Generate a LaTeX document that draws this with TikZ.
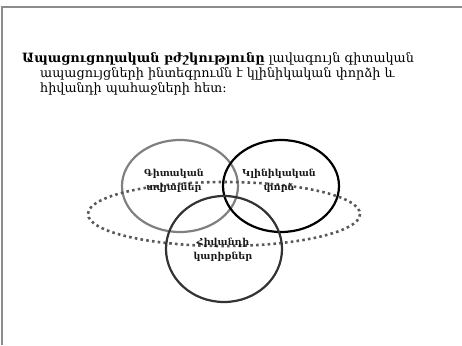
\documentclass[tikz,border=0pt]{standalone}
\usepackage{fontspec}
\setmainfont{DejaVu Serif}
\begin{document}
\begin{tikzpicture}[x=1pt,y=-1pt,
  frame/.style={draw=black!45,line width=1.4pt},
  ring/.style={line width=2.2pt},
  head/.style={anchor=base west,inner sep=0pt,font=\fontsize{12.8}{15}\selectfont},
  lbl/.style={font=\fontsize{9.6}{14.5}\selectfont\bfseries,align=center,text=black!90,inner sep=0pt},
  dots/.style={draw=black!65,line width=2.6pt,dash pattern=on 2.6pt off 3.2pt}]
\useasboundingbox (0,0) rectangle (462,345);
% page frame
\draw[frame] (462,7) -- (2,7) -- (2,345);
% heading text
\node[head] (t1) at (22,62) {\textbf{Ապացուցողական բժշկությունը} լավագույն գիտական};
\node[head] (t2) at (40,77) {ապացույցների ինտեգրումն է կլինիկական փորձի և};
\node[head] (t3) at (40,92) {հիվանդի պահաջների հետ:};
% overlapping circles
\draw[ring,draw=black!50] (180,186) ellipse [x radius=58,y radius=46];
\draw[ring,draw=black] (281,186) ellipse [x radius=58,y radius=46];
\draw[dots] (224,214) ellipse [x radius=136,y radius=32];
\draw[ring,draw=black!80] (224,249) ellipse [x radius=58,y radius=53];
% labels
\node[lbl] (gt) at (174,181) {Գիտական\\տվյալներ};
\node[lbl] (kp) at (279,181) {Կլինիկական\\փորձ};
\node[lbl] (hk) at (223,250) {Հիվանդի\\կարիքներ};
\end{tikzpicture}
\end{document}
